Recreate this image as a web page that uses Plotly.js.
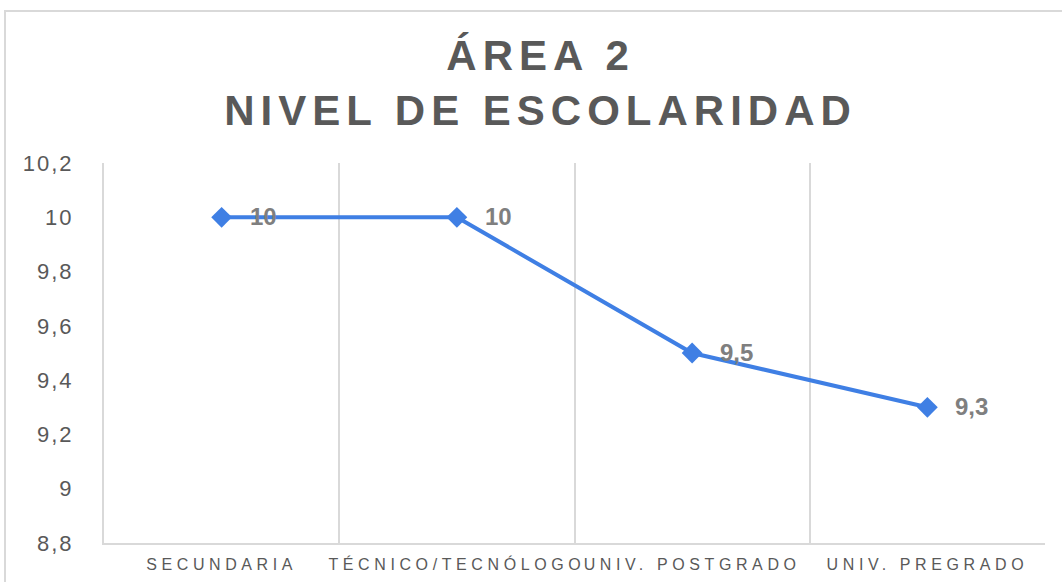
<!DOCTYPE html>
<html>
<head>
<meta charset="utf-8">
<script src="https://cdn.plot.ly/plotly-3.0.1.min.js"></script>
<style>
  html, body { margin: 0; padding: 0; background: #ffffff; overflow: hidden; }
  #frame { position: absolute; left: 4px; top: 10px; width: 1070px; height: 600px;
           border: 2px solid #d9d9d9; box-sizing: border-box; }
  #chart { position: absolute; left: 0; top: 0; width: 1062px; height: 582px; }
  #chart .gtitle { letter-spacing: 6px; }
  #chart .xtick text { letter-spacing: 4.6px; }
  #chart .ytick text { letter-spacing: 2px; }
</style>
</head>
<body>
<div id="frame"></div>
<div id="chart"></div>
<script>
const categories = ["SECUNDARIA", "TÉCNICO/TECNÓLOGO", "UNIV. POSTGRADO", "UNIV. PREGRADO"];
const values = [10, 10, 9.5, 9.3];
const valueLabels = ["10", "10", "9,5", "9,3"];
const yTickValues = [8.8, 9, 9.2, 9.4, 9.6, 9.8, 10, 10.2];
const yTickLabels = ["8,8", "9", "9,2", "9,4", "9,6", "9,8", "10", "10,2"];
const titleLines = ["ÁREA 2", "NIVEL DE ESCOLARIDAD"];

const blue = "#3f7fe4";

const trace = {
  type: "scatter",
  mode: "lines+markers",
  x: categories,
  y: values,
  line: { color: blue, width: 4 },
  marker: { symbol: "diamond", size: 16, color: blue },
  cliponaxis: false,
  hoverinfo: "skip"
};

const labelAnnotations = categories.map((c, i) => ({
  x: c,
  y: values[i],
  xref: "x",
  yref: "y",
  text: valueLabels[i],
  showarrow: false,
  xanchor: "left",
  yanchor: "middle",
  xshift: 26,
  yshift: 1,
  font: { family: "Liberation Sans, Arial, sans-serif", size: 24, color: "#7f7f7f", weight: "bold" }
}));

const layout = {
  width: 1062,
  height: 582,
  margin: { l: 104, r: 17, t: 163, b: 39 },
  paper_bgcolor: "rgba(0,0,0,0)",
  plot_bgcolor: "rgba(0,0,0,0)",
  separators: ",.",
  showlegend: false,
  font: { family: "Liberation Sans, Arial, sans-serif", color: "#595959" },
  title: {
    text: titleLines.join("<br>"),
    font: { family: "Liberation Sans, Arial, sans-serif", size: 42, color: "#595959", weight: "bold" },
    x: 0.509,
    xref: "container",
    xanchor: "center",
    y: 1 - 70 / 582,
    yref: "container",
    yanchor: "middle"
  },
  annotations: labelAnnotations,
  xaxis: {
    type: "category",
    range: [-0.5, 3.5],
    tickson: "boundaries",
    ticks: "",
    showgrid: true,
    gridcolor: "#d9d9d9",
    gridwidth: 2,
    showline: true,
    linecolor: "#d9d9d9",
    linewidth: 2,
    tickfont: { size: 16, color: "#595959" },
    ticklabelstandoff: 6,
    zeroline: false
  },
  yaxis: {
    range: [8.8, 10.2],
    tickvals: yTickValues,
    ticktext: yTickLabels,
    showgrid: false,
    zeroline: false,
    showline: true,
    linecolor: "#d9d9d9",
    linewidth: 2,
    ticks: "",
    tickfont: { size: 22, color: "#595959" },
    ticklabelstandoff: 24
  }
};

Plotly.newPlot("chart", [trace], layout, { staticPlot: true, displayModeBar: false });
</script>
</body>
</html>
